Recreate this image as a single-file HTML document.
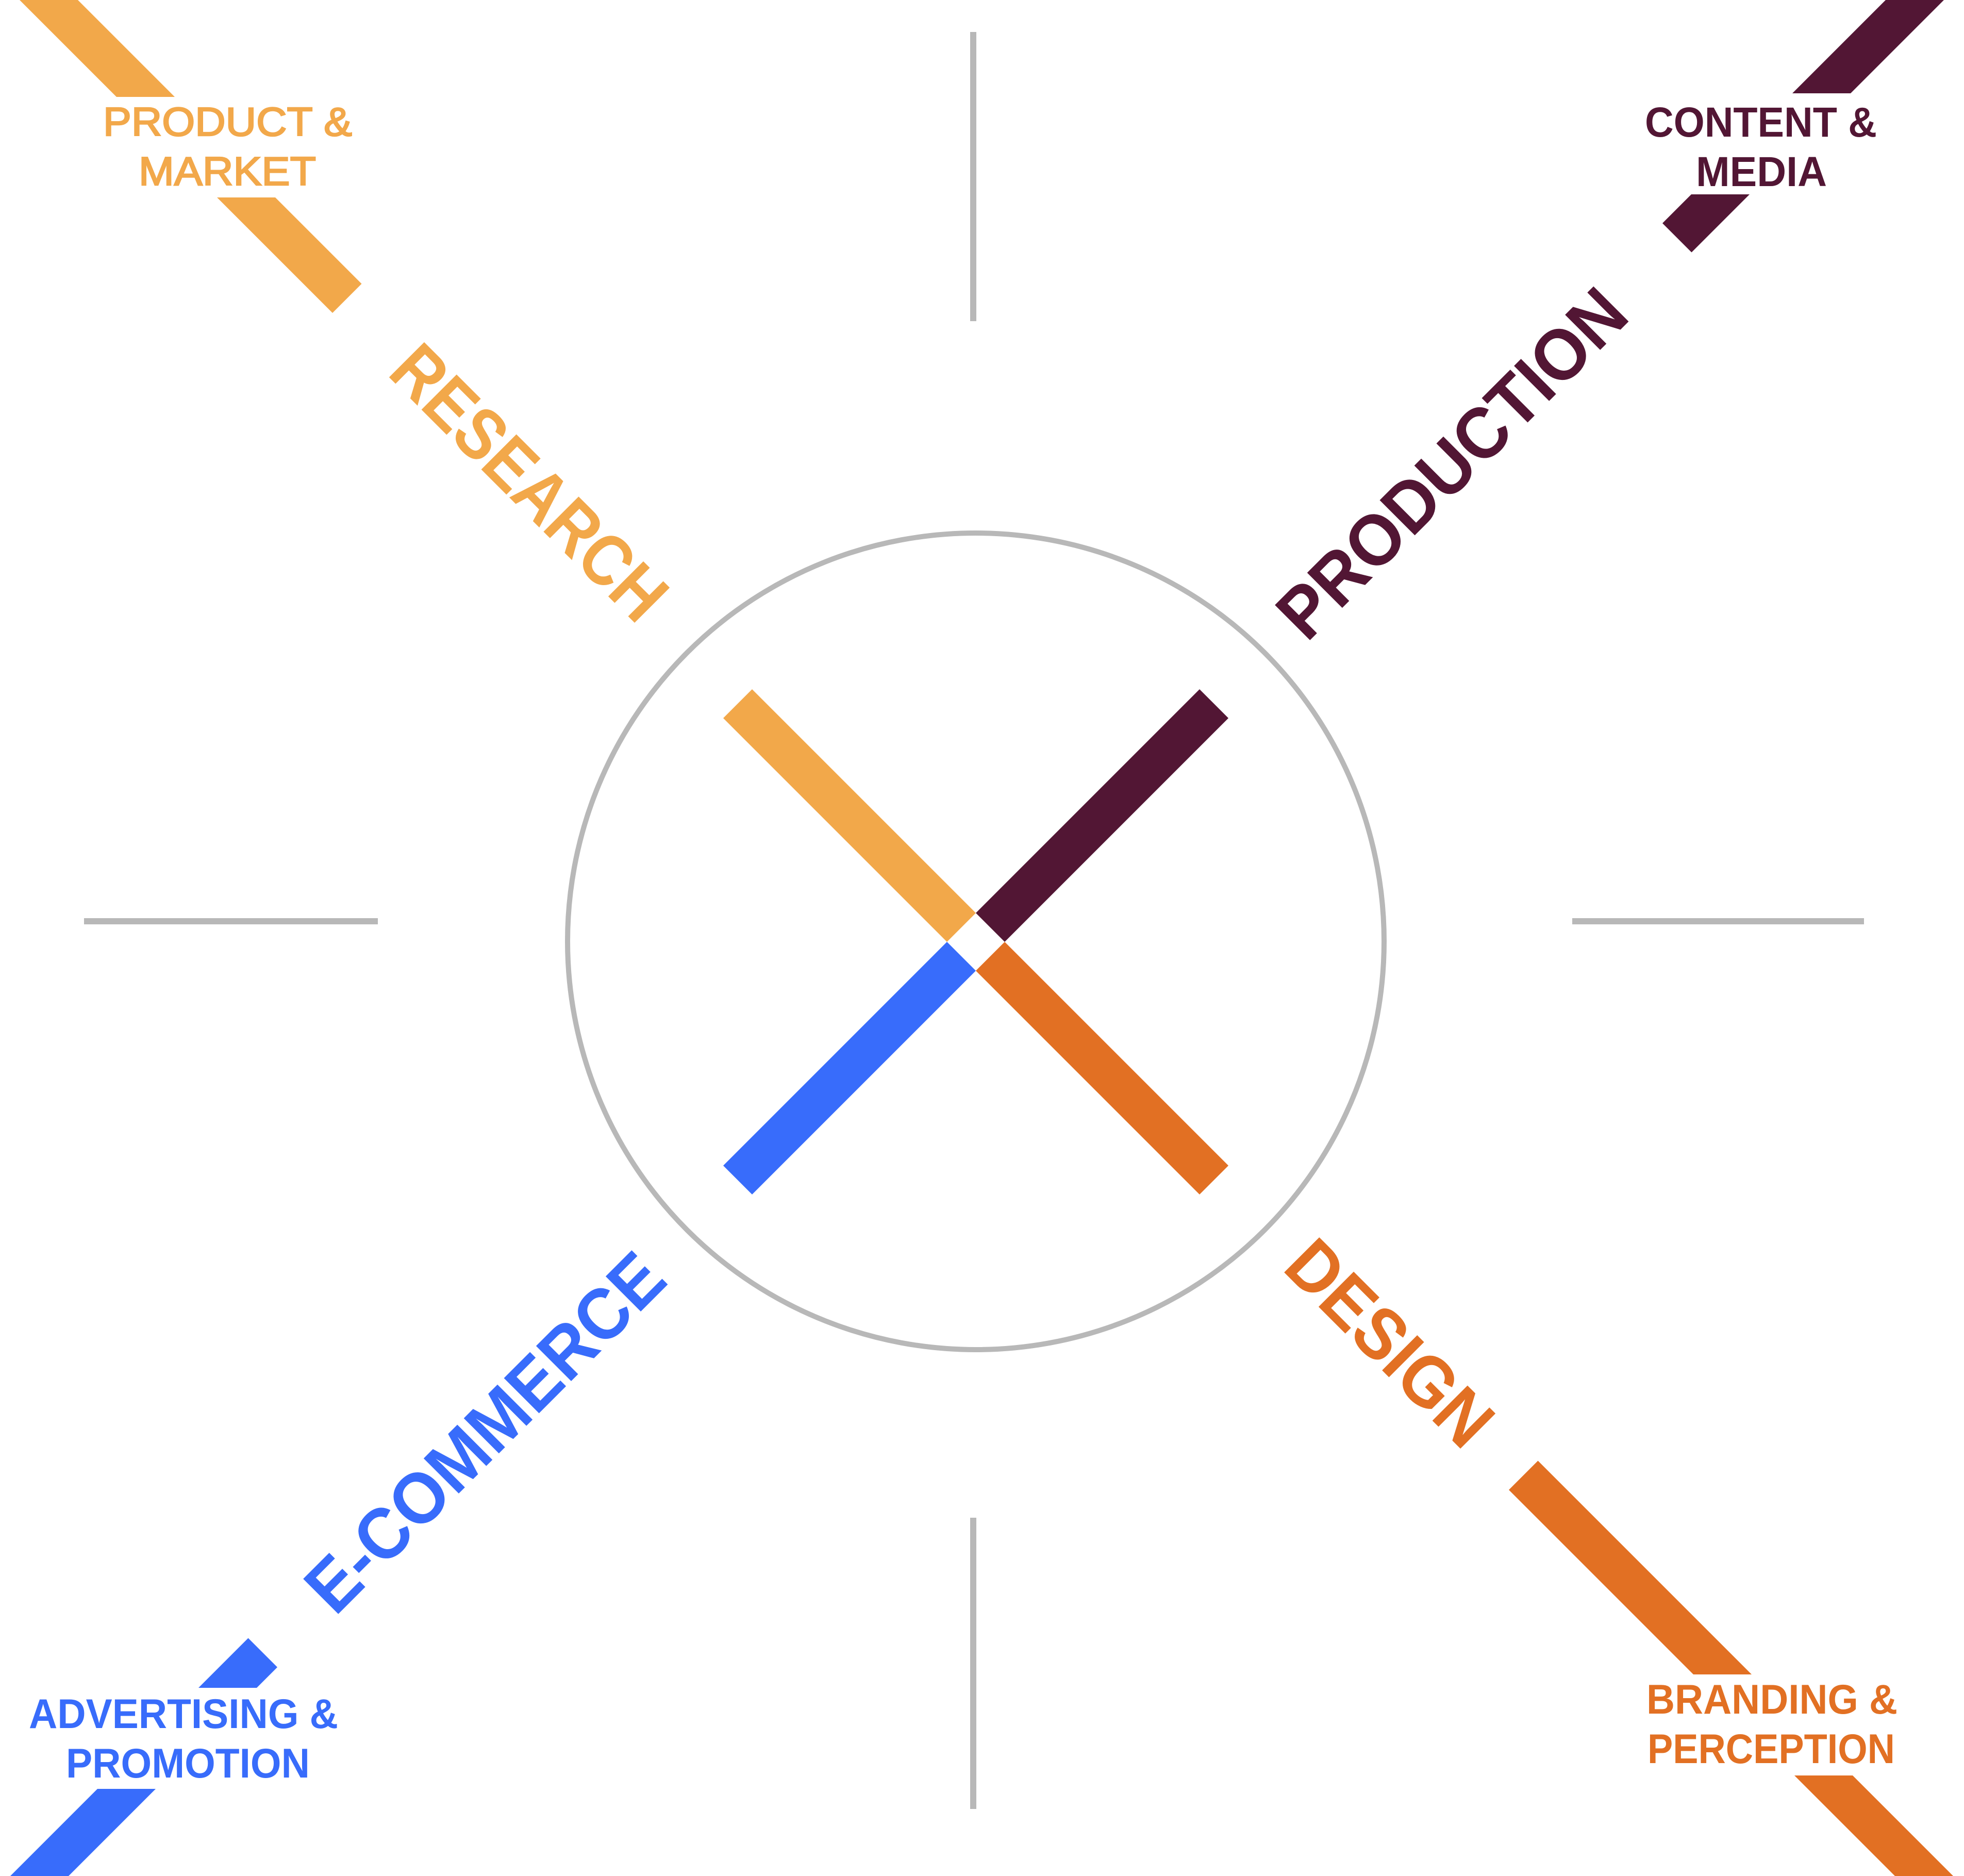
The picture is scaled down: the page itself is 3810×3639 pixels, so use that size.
<!DOCTYPE html>
<html><head><meta charset="utf-8"><style>html,body{margin:0;padding:0;background:#fff;width:3810px;height:3639px;overflow:hidden}svg{display:block}</style></head>
<body>
<svg width="3810" height="3639" viewBox="0 0 3810 3639" xmlns="http://www.w3.org/2000/svg">
<rect width="3810" height="3639" fill="#fff"/>
<g fill="#b8b8b8">
<rect x="1882" y="62" width="12" height="561"/>
<rect x="1882" y="2944" width="12" height="565"/>
<rect x="163" y="1781" width="570" height="12"/>
<rect x="3050" y="1781" width="566" height="12"/>
</g>
<circle cx="1893" cy="1826" r="792" fill="none" stroke="#b8b8b8" stroke-width="10"/>
<g transform="translate(1893,1827)">
<polygon fill="#F2A84A" points="-56,0 0,-56 -434,-490 -490,-434"/>
<polygon fill="#521634" points="0,-56 56,0 490,-434 434,-490"/>
<polygon fill="#E27023" points="56,0 0,56 434,490 490,434"/>
<polygon fill="#386CFB" points="0,56 -56,0 -490,434 -434,490"/>
</g>
<polygon fill="#F2A84A" points="38,0 151,0 701.5,550.5 645,607"/>
<polygon fill="#521634" points="3658,0 3771,0 3281.5,489.5 3225,433"/>
<polygon fill="#386CFB" points="20,3639 133,3639 538,3234 481.5,3177.5"/>
<polygon fill="#E27023" points="3676,3639 3789,3639 2983.5,2833.5 2927,2890"/>
<g fill="#fff">
<rect x="0" y="188" width="800" height="195"/>
<rect x="3000" y="181" width="810" height="196"/>
<rect x="0" y="3274" width="800" height="196"/>
<rect x="3000" y="3248" width="810" height="196"/>
</g>
<g font-family="'Liberation Sans', Arial, sans-serif">
<text x="200" y="263" font-size="78" fill="#F2A84A" stroke="#F2A84A" stroke-width="2.5" textLength="483" lengthAdjust="spacingAndGlyphs">PRODUCT &amp;</text>
<text x="269" y="359" font-size="78" fill="#F2A84A" stroke="#F2A84A" stroke-width="2.5" textLength="344" lengthAdjust="spacingAndGlyphs">MARKET</text>
<text x="3191" y="265" font-size="82" font-weight="bold" fill="#521634" textLength="450" lengthAdjust="spacingAndGlyphs">CONTENT &amp;</text>
<text x="3290" y="361" font-size="82" font-weight="bold" fill="#521634" textLength="254" lengthAdjust="spacingAndGlyphs">MEDIA</text>
<text x="56" y="3352" font-size="81" font-weight="bold" fill="#386CFB" textLength="600" lengthAdjust="spacingAndGlyphs">ADVERTISING &amp;</text>
<text x="128" y="3448" font-size="81" font-weight="bold" fill="#386CFB" textLength="473" lengthAdjust="spacingAndGlyphs">PROMOTION</text>
<text x="3194" y="3324" font-size="81" font-weight="bold" fill="#E27023" textLength="487" lengthAdjust="spacingAndGlyphs">BRANDING &amp;</text>
<text x="3196" y="3420" font-size="81" font-weight="bold" fill="#E27023" textLength="480" lengthAdjust="spacingAndGlyphs">PERCEPTION</text>
<text transform="translate(749,726) rotate(45)" font-size="140" font-weight="bold" fill="#F2A84A" textLength="690" lengthAdjust="spacingAndGlyphs">RESEARCH</text>
<text transform="translate(2535,1248) rotate(-45)" font-size="140" font-weight="bold" fill="#521634" textLength="892" lengthAdjust="spacingAndGlyphs">PRODUCTION</text>
<text transform="translate(650,3137) rotate(-45)" font-size="140" font-weight="bold" fill="#386CFB" textLength="918" lengthAdjust="spacingAndGlyphs">E-COMMERCE</text>
<text transform="translate(2485,2462) rotate(45)" font-size="140" font-weight="bold" fill="#E27023" textLength="501" lengthAdjust="spacingAndGlyphs">DESIGN</text>
</g>
</svg>
</body></html>
